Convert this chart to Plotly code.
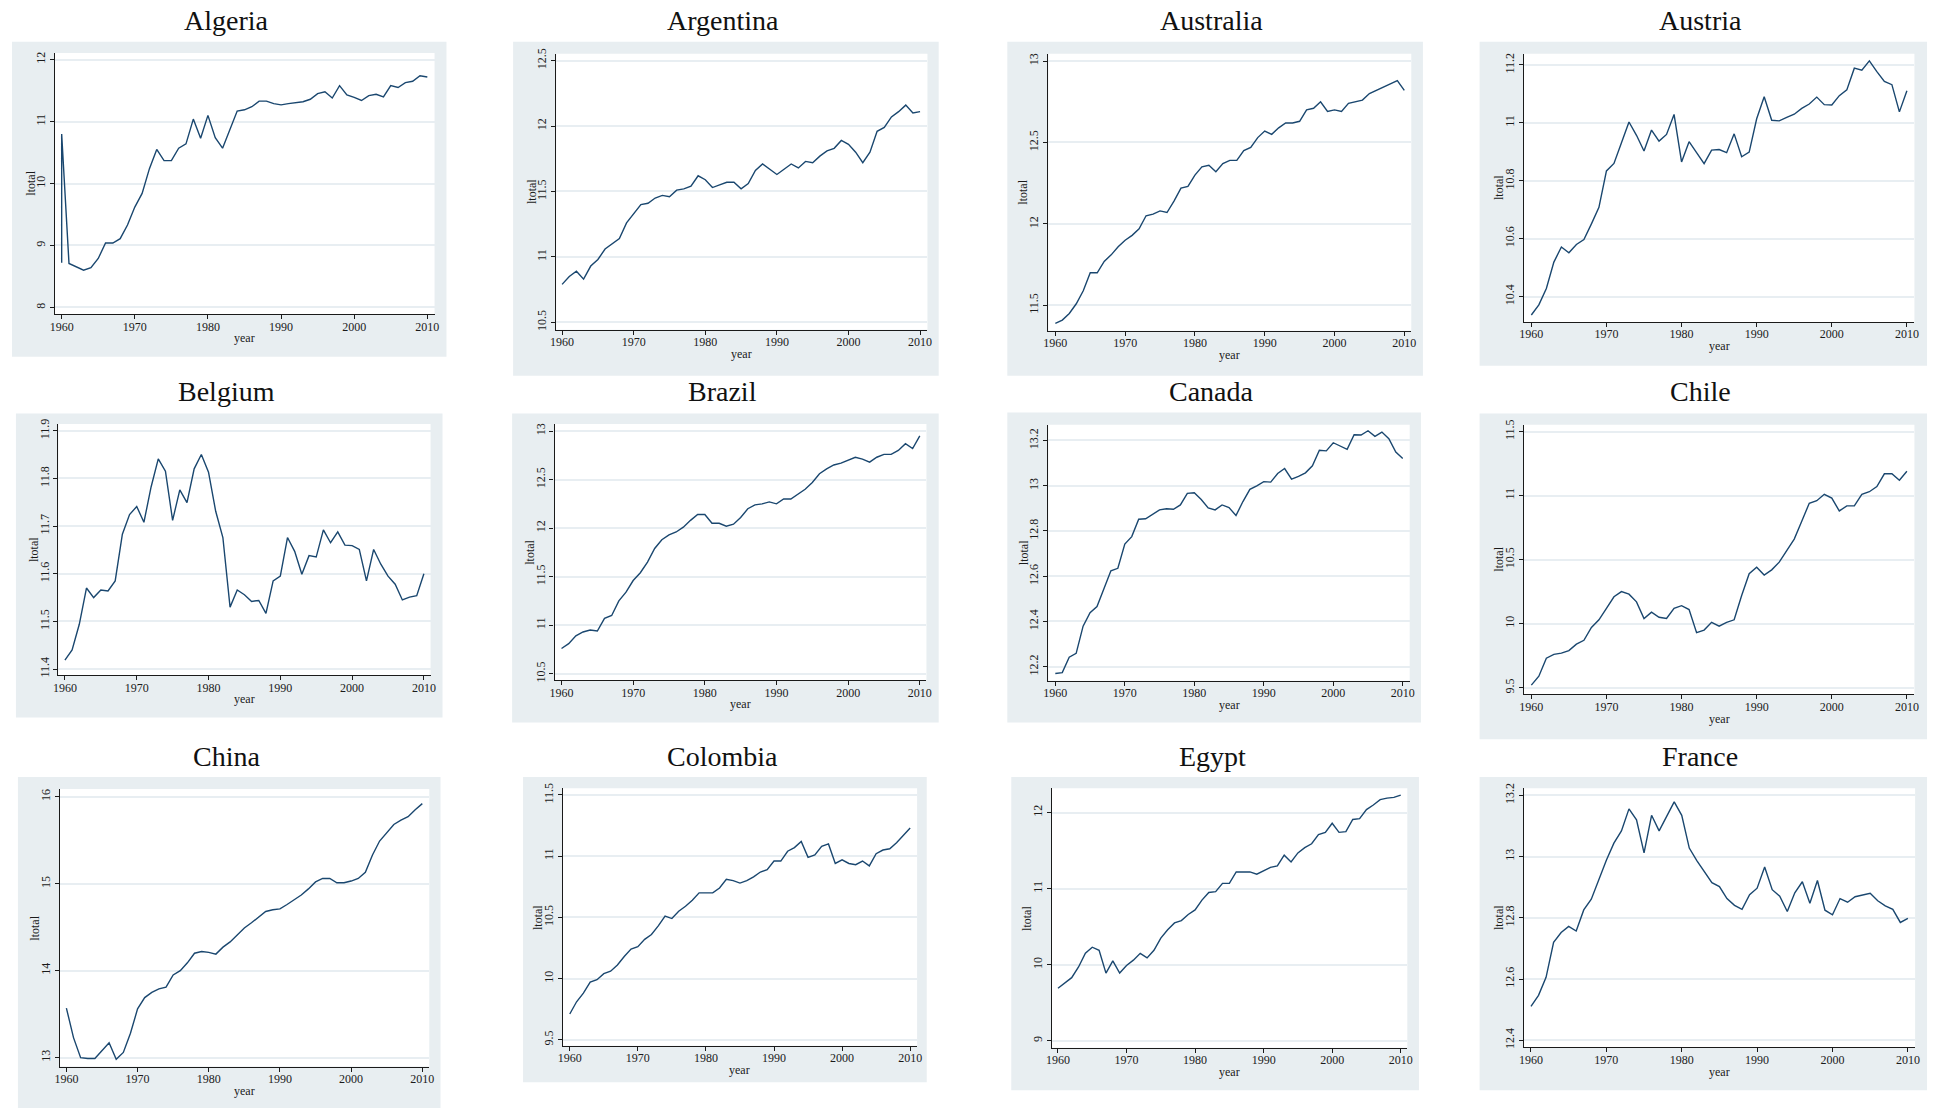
import plotly.graph_objects as go

# Canvas size in pixels
W, H = 1941, 1112

# ---------------------------------------------------------------- data
years = list(range(1960, 2011))
algeria_years = [1960] + years  # Algeria has two records for 1960

algeria = [8.72, 10.80, 8.71, 8.65, 8.60, 8.64, 8.79, 9.04, 9.04, 9.11, 9.33, 9.62,
           9.84, 10.24, 10.55, 10.37, 10.37, 10.57, 10.64, 11.04, 10.73, 11.10,
           10.74, 10.57, 10.88, 11.17, 11.19, 11.24, 11.33, 11.33, 11.29, 11.27,
           11.29, 11.31, 11.32, 11.36, 11.45, 11.48, 11.38, 11.58, 11.43, 11.39,
           11.34, 11.42, 11.44, 11.40, 11.58, 11.55, 11.63, 11.65, 11.74, 11.72]
argentina = [10.79, 10.85, 10.89, 10.83, 10.93, 10.98, 11.06, 11.10, 11.14, 11.26,
             11.33, 11.40, 11.41, 11.45, 11.47, 11.46, 11.51, 11.52, 11.54, 11.62,
             11.59, 11.53, 11.55, 11.57, 11.57, 11.52, 11.56, 11.66, 11.71, 11.67,
             11.63, 11.67, 11.71, 11.68, 11.73, 11.72, 11.77, 11.81, 11.83, 11.89,
             11.86, 11.80, 11.72, 11.80, 11.96, 11.99, 12.07, 12.11, 12.16, 12.10,
             12.11]
australia = [11.39, 11.41, 11.45, 11.51, 11.59, 11.70, 11.70, 11.77, 11.81, 11.86,
             11.90, 11.93, 11.97, 12.05, 12.06, 12.08, 12.07, 12.14, 12.22, 12.23,
             12.30, 12.35, 12.36, 12.32, 12.37, 12.39, 12.39, 12.45, 12.47, 12.53,
             12.57, 12.55, 12.59, 12.62, 12.62, 12.63, 12.70, 12.71, 12.75, 12.69,
             12.70, 12.69, 12.74, 12.75, 12.76, 12.80, 12.82, 12.84, 12.86, 12.88,
             12.82]
austria = [10.336, 10.371, 10.428, 10.519, 10.571, 10.551, 10.580, 10.597, 10.651, 10.708,
           10.834, 10.860, 10.931, 11.003, 10.957, 10.903, 10.975, 10.937, 10.960, 11.029,
           10.865, 10.935, 10.897, 10.859, 10.906, 10.908, 10.897, 10.962, 10.883, 10.899,
           11.014, 11.090, 11.009, 11.007, 11.019, 11.030, 11.050, 11.065, 11.089, 11.063,
           11.062, 11.094, 11.114, 11.189, 11.182, 11.214, 11.177, 11.143, 11.132, 11.038,
           11.111]
belgium = [11.419, 11.440, 11.494, 11.570, 11.550, 11.566, 11.564, 11.585, 11.683, 11.724,
           11.741, 11.708, 11.782, 11.841, 11.815, 11.712, 11.776, 11.749, 11.820, 11.850,
           11.813, 11.731, 11.676, 11.530, 11.566, 11.556, 11.542, 11.544, 11.517, 11.585,
           11.595, 11.676, 11.647, 11.599, 11.638, 11.635, 11.692, 11.665, 11.688, 11.660,
           11.659, 11.651, 11.585, 11.651, 11.620, 11.595, 11.578, 11.545, 11.551, 11.554,
           11.600]
brazil = [10.76, 10.81, 10.89, 10.93, 10.95, 10.94, 11.07, 11.10, 11.25, 11.34,
          11.46, 11.54, 11.65, 11.79, 11.88, 11.93, 11.96, 12.01, 12.08, 12.14,
          12.14, 12.05, 12.05, 12.02, 12.04, 12.11, 12.20, 12.24, 12.25, 12.27,
          12.25, 12.30, 12.30, 12.35, 12.40, 12.47, 12.56, 12.61, 12.65, 12.67,
          12.70, 12.73, 12.71, 12.68, 12.73, 12.76, 12.76, 12.80, 12.87, 12.82,
          12.95]
canada = [12.170, 12.174, 12.242, 12.259, 12.379, 12.439, 12.466, 12.542, 12.624, 12.635,
          12.742, 12.775, 12.852, 12.854, 12.874, 12.893, 12.898, 12.896, 12.915, 12.966,
          12.969, 12.939, 12.902, 12.893, 12.915, 12.903, 12.868, 12.930, 12.984, 12.999,
          13.018, 13.016, 13.054, 13.076, 13.029, 13.041, 13.057, 13.088, 13.157, 13.154,
          13.190, 13.176, 13.161, 13.225, 13.224, 13.243, 13.218, 13.237, 13.208, 13.149,
          13.120]
chile = [9.52, 9.59, 9.73, 9.76, 9.77, 9.79, 9.84, 9.87, 9.97, 10.03,
         10.12, 10.21, 10.25, 10.23, 10.17, 10.04, 10.09, 10.05, 10.04, 10.12,
         10.14, 10.11, 9.93, 9.95, 10.01, 9.98, 10.01, 10.03, 10.22, 10.39,
         10.44, 10.38, 10.42, 10.48, 10.57, 10.66, 10.80, 10.94, 10.96, 11.01,
         10.98, 10.88, 10.92, 10.92, 11.01, 11.03, 11.07, 11.17, 11.17, 11.12,
         11.19]
china = [13.57, 13.23, 13.00, 12.99, 12.99, 13.08, 13.17, 12.98, 13.06, 13.28,
         13.56, 13.69, 13.75, 13.79, 13.81, 13.95, 14.00, 14.09, 14.20, 14.22,
         14.21, 14.19, 14.27, 14.33, 14.41, 14.49, 14.55, 14.62, 14.68, 14.70,
         14.71, 14.76, 14.81, 14.87, 14.94, 15.02, 15.06, 15.06, 15.01, 15.01,
         15.03, 15.06, 15.13, 15.33, 15.49, 15.58, 15.68, 15.73, 15.77, 15.85,
         15.92]
colombia = [9.71, 9.81, 9.88, 9.97, 9.99, 10.04, 10.06, 10.11, 10.18, 10.24,
            10.26, 10.32, 10.36, 10.43, 10.51, 10.49, 10.55, 10.59, 10.64, 10.70,
            10.70, 10.70, 10.74, 10.81, 10.80, 10.78, 10.80, 10.83, 10.87, 10.89,
            10.96, 10.96, 11.04, 11.07, 11.12, 10.99, 11.01, 11.08, 11.10, 10.94,
            10.97, 10.94, 10.93, 10.96, 10.92, 11.02, 11.05, 11.06, 11.11, 11.17,
            11.23]
egypt = [9.69, 9.76, 9.83, 9.97, 10.15, 10.23, 10.19, 9.89, 10.05, 9.89,
         9.99, 10.06, 10.15, 10.09, 10.19, 10.35, 10.46, 10.55, 10.58, 10.66,
         10.72, 10.85, 10.95, 10.96, 11.07, 11.07, 11.22, 11.22, 11.22, 11.19,
         11.24, 11.28, 11.30, 11.44, 11.35, 11.47, 11.54, 11.59, 11.71, 11.74,
         11.86, 11.74, 11.75, 11.91, 11.92, 12.04, 12.10, 12.17, 12.19, 12.20,
         12.23]
france = [12.511, 12.547, 12.606, 12.720, 12.752, 12.772, 12.757, 12.826, 12.861, 12.925,
          12.988, 13.044, 13.084, 13.156, 13.120, 13.012, 13.135, 13.084, 13.133, 13.179,
          13.135, 13.028, 12.987, 12.952, 12.915, 12.902, 12.863, 12.841, 12.828, 12.876,
          12.897, 12.966, 12.892, 12.871, 12.821, 12.882, 12.918, 12.848, 12.922, 12.825,
          12.810, 12.863, 12.851, 12.869, 12.875, 12.880, 12.856, 12.839, 12.828, 12.785,
          12.798]

year_ticks = [1960, 1970, 1980, 1990, 2000, 2010]

algeria_ticks = [8, 9, 10, 11, 12]
argentina_ticks = [10.5, 11, 11.5, 12, 12.5]
australia_ticks = [11.5, 12, 12.5, 13]
austria_ticks = [10.4, 10.6, 10.8, 11, 11.2]
belgium_ticks = [11.4, 11.5, 11.6, 11.7, 11.8, 11.9]
brazil_ticks = [10.5, 11, 11.5, 12, 12.5, 13]
canada_ticks = [12.2, 12.4, 12.6, 12.8, 13, 13.2]
chile_ticks = [9.5, 10, 10.5, 11, 11.5]
china_ticks = [13, 14, 15, 16]
colombia_ticks = [9.5, 10, 10.5, 11, 11.5]
egypt_ticks = [9, 10, 11, 12]
france_ticks = [12.4, 12.6, 12.8, 13, 13.2]

# ---------------------------------------------------------------- styling
PANEL = "#e8eef1"
GRID = "#e8eef2"
LINE = "#1a476f"
AXIS = "#1a1a1a"
SERIF = "Liberation Serif, Times New Roman, serif"

# Each panel: outer box, plot box (pixels, left/top/right/bottom), axis ranges, title centre
panels = [
    dict(name="Algeria", x=algeria_years, y=algeria, yt=algeria_ticks,
         bg=(6, 37, 443, 354), box=(49.3, 48.3, 431, 311),
         xr=(1959.09, 2010.99), yr=(7.893, 12.107), title=(222, 15.5)),
    dict(name="Argentina", x=years, y=argentina, yt=argentina_ticks,
         bg=(510, 37, 938, 373), box=(553.3, 49, 926.7, 326.7),
         xr=(1959.17, 2011.03), yr=(10.444, 12.553), title=(721, 15.5)),
    dict(name="Australia", x=years, y=australia, yt=australia_ticks,
         bg=(1007, 37, 1425, 373), box=(1048.3, 49, 1413.3, 327.7),
         xr=(1959.0, 2011.0), yr=(11.345, 13.045), title=(1212, 15.5)),
    dict(name="Austria", x=years, y=austria, yt=austria_ticks,
         bg=(1482, 37, 1932, 363), box=(1526.7, 49, 1919.3, 319),
         xr=(1959.03, 2011.0), yr=(10.312, 11.239), title=(1704, 15.5)),
    dict(name="Belgium", x=years, y=belgium, yt=belgium_ticks,
         bg=(10, 411, 439, 717), box=(52.7, 421.7, 427, 674.3),
         xr=(1959.09, 2010.93), yr=(11.3875, 11.914), title=(222, 389)),
    dict(name="Brazil", x=years, y=brazil, yt=brazil_ticks,
         bg=(509, 411, 938, 722), box=(551.7, 421.7, 925.7, 679.3),
         xr=(1959.03, 2010.93), yr=(10.435, 13.072), title=(721, 389)),
    dict(name="Canada", x=years, y=canada, yt=canada_ticks,
         bg=(1007, 410, 1423, 722), box=(1048.3, 422.3, 1411.7, 680),
         xr=(1959.0, 2011.0), yr=(12.138, 13.27), title=(1212, 389)),
    dict(name="Chile", x=years, y=chile, yt=chile_ticks,
         bg=(1482, 411, 1932, 739), box=(1526.7, 422.3, 1919.3, 693.7),
         xr=(1959.03, 2011.0), yr=(9.448, 11.554), title=(1704, 389)),
    dict(name="China", x=years, y=china, yt=china_ticks,
         bg=(12, 777, 437, 1110), box=(54, 789, 425.7, 1068.3),
         xr=(1959.06, 2010.98), yr=(12.897, 16.088), title=(222, 756)),
    dict(name="Colombia", x=years, y=colombia, yt=colombia_ticks,
         bg=(520, 777, 926, 1084), box=(560, 788.3, 916.3, 1047.3),
         xr=(1958.98, 2011.02), yr=(9.451, 11.554), title=(721, 756)),
    dict(name="Egypt", x=years, y=egypt, yt=egypt_ticks,
         bg=(1011, 777, 1421, 1092), box=(1051.7, 788.3, 1409.3, 1049.3),
         xr=(1959.09, 2010.96), yr=(8.909, 12.319), title=(1213, 756)),
    dict(name="France", x=years, y=france, yt=france_ticks,
         bg=(1482, 777, 1932, 1092), box=(1526.7, 788.3, 1920, 1049),
         xr=(1959.08, 2010.96), yr=(12.377, 13.223), title=(1704, 756)),
]


def fx(px):
    return px / W


def fy(py):
    return 1 - py / H


fig = go.Figure()
shapes = []
annotations = []
axes = {}

for i, p in enumerate(panels, start=1):
    sfx = "" if i == 1 else str(i)
    xa, ya = "x" + sfx, "y" + sfx

    fig.add_trace(go.Scatter(
        x=p["x"], y=p["y"], mode="lines",
        line=dict(color=LINE, width=1.4),
        xaxis=xa, yaxis=ya, showlegend=False, hoverinfo="skip"))

    bx0, by0, bx1, by1 = p["bg"]
    shapes.append(dict(type="rect", xref="paper", yref="paper",
                       x0=fx(bx0), x1=fx(bx1), y0=fy(by1), y1=fy(by0),
                       fillcolor=PANEL, line=dict(width=0), layer="below"))
    px0, py0, px1, py1 = p["box"]
    shapes.append(dict(type="rect", xref="paper", yref="paper",
                       x0=fx(px0), x1=fx(px1), y0=fy(py1), y1=fy(py0),
                       fillcolor="white", line=dict(width=0), layer="below"))

    tick_font = dict(family=SERIF, size=12, color=AXIS)
    axes["xaxis" + sfx] = dict(
        domain=[fx(px0), fx(px1)], anchor=ya, range=list(p["xr"]),
        tickvals=year_ticks, ticktext=[str(t) for t in year_ticks],
        showline=True, linecolor=AXIS, linewidth=1.2,
        ticks="outside", ticklen=4, tickwidth=1, tickcolor=AXIS,
        ticklabelstandoff=-3,
        showgrid=False, zeroline=False, tickfont=tick_font, fixedrange=True)
    axes["yaxis" + sfx] = dict(
        domain=[fy(py1), fy(py0)], anchor=xa, range=list(p["yr"]),
        tickvals=p["yt"], ticktext=[f"{t:g}" for t in p["yt"]], tickangle=-90,
        showline=True, linecolor=AXIS, linewidth=1.2,
        ticks="outside", ticklen=4, tickwidth=1, tickcolor=AXIS,
        showgrid=True, gridcolor=GRID, gridwidth=1.5,
        zeroline=False, tickfont=tick_font, fixedrange=True)

    # panel title
    tx, ty = p["title"]
    annotations.append(dict(text=p["name"], xref="paper", yref="paper",
                            x=fx(tx), y=fy(ty), xanchor="center", yanchor="middle",
                            showarrow=False,
                            font=dict(family=SERIF, size=28, color="#111111")))
    # axis titles
    annotations.append(dict(text="year", xref="paper", yref="paper",
                            x=fx((px0 + px1) / 2), y=fy(py1 + 24.5),
                            xanchor="center", yanchor="middle", showarrow=False,
                            font=dict(family=SERIF, size=12, color=AXIS)))
    annotations.append(dict(text="ltotal", xref="paper", yref="paper",
                            x=fx(px0 - 25), y=fy((py0 + py1) / 2),
                            xanchor="center", yanchor="middle", showarrow=False,
                            textangle=-90,
                            font=dict(family=SERIF, size=12, color=AXIS)))

fig.update_layout(
    width=W, height=H, autosize=False,
    margin=dict(l=0, r=0, t=0, b=0, pad=0),
    paper_bgcolor="white", plot_bgcolor="rgba(0,0,0,0)",
    shapes=shapes, annotations=annotations,
    **axes)

fig.write_html("out.html", config={"displayModeBar": False})
